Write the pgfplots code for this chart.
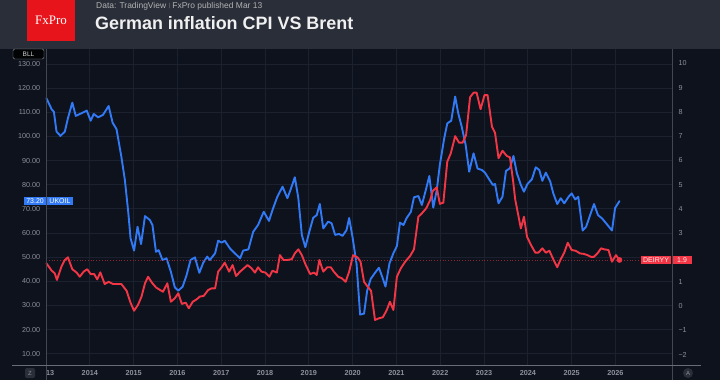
\documentclass[border=0pt]{standalone}
\usepackage{pgfplots}
\usepackage{pgfplotstable}
\pgfplotsset{compat=1.18}
\usepackage{fontspec}
\setmainfont{Liberation Sans}
\newfontfamily\logofont{Liberation Serif}
\definecolor{bgplot}{HTML}{0E121D}
\definecolor{bghead}{HTML}{2A2E39}
\definecolor{gridc}{HTML}{1C2130}
\definecolor{axc}{HTML}{434752}
\definecolor{tickc}{HTML}{8E919A}
\definecolor{oilc}{HTML}{3179F5}
\definecolor{cpic}{HTML}{F23645}
\definecolor{logored}{HTML}{E8141B}

\pgfplotstableread{
year v
2013.01 115.8
2013.13 111.2
2013.18 110.2
2013.24 102.0
2013.33 100.2
2013.43 102.0
2013.50 107.5
2013.60 114.0
2013.68 108.5
2013.81 109.6
2013.93 110.7
2014.02 106.5
2014.09 109.3
2014.19 107.9
2014.30 108.9
2014.43 112.6
2014.52 105.7
2014.61 103.0
2014.72 91.6
2014.80 82.0
2014.88 68.2
2014.93 57.8
2015.01 52.7
2015.09 62.6
2015.17 55.4
2015.26 67.0
2015.37 65.4
2015.43 63.3
2015.51 52.2
2015.57 52.9
2015.66 48.8
2015.75 49.5
2015.85 44.0
2015.94 37.5
2016.02 36.1
2016.12 37.8
2016.21 42.6
2016.30 48.8
2016.40 49.9
2016.50 43.5
2016.59 47.7
2016.68 50.2
2016.74 48.8
2016.86 51.6
2016.93 56.8
2017.01 56.0
2017.08 56.8
2017.20 53.6
2017.31 51.6
2017.43 49.5
2017.50 52.7
2017.62 53.2
2017.73 60.5
2017.84 63.3
2017.97 68.8
2018.09 65.0
2018.17 69.5
2018.28 75.0
2018.40 79.2
2018.51 74.4
2018.58 77.8
2018.68 83.1
2018.76 74.4
2018.84 59.2
2018.92 54.1
2019.01 60.5
2019.10 66.3
2019.18 67.4
2019.25 72.0
2019.33 61.9
2019.44 64.7
2019.52 64.0
2019.60 59.2
2019.69 59.6
2019.77 58.8
2019.86 61.2
2019.92 66.2
2020.00 58.0
2020.09 47.0
2020.17 26.2
2020.26 26.6
2020.33 36.0
2020.41 40.9
2020.51 43.5
2020.60 45.6
2020.66 42.6
2020.75 37.8
2020.84 47.4
2020.93 51.6
2021.01 54.6
2021.08 64.3
2021.16 63.3
2021.23 66.1
2021.33 68.8
2021.40 74.8
2021.50 75.3
2021.58 71.6
2021.68 78.5
2021.75 83.6
2021.84 70.5
2021.92 77.8
2021.99 88.2
2022.09 99.2
2022.16 105.4
2022.25 106.5
2022.34 116.5
2022.41 109.6
2022.49 104.0
2022.58 96.4
2022.66 85.4
2022.76 93.0
2022.85 86.7
2022.95 86.1
2023.02 85.0
2023.11 82.4
2023.20 79.9
2023.25 80.3
2023.33 72.3
2023.42 75.0
2023.50 85.7
2023.59 86.8
2023.67 91.9
2023.75 84.7
2023.84 79.9
2023.91 77.1
2023.99 80.3
2024.09 82.2
2024.18 87.2
2024.26 86.1
2024.33 81.6
2024.41 85.0
2024.51 81.3
2024.58 76.4
2024.67 72.0
2024.75 74.4
2024.83 72.3
2024.93 75.0
2025.00 76.4
2025.08 73.9
2025.15 75.0
2025.25 61.0
2025.33 62.6
2025.42 67.4
2025.51 72.0
2025.60 67.4
2025.69 66.1
2025.80 63.7
2025.92 61.0
2025.99 70.3
2026.09 73.2
}\oiltable

\pgfplotstableread{
year r
2013.01 1.76
2013.13 1.46
2013.20 1.35
2013.25 1.08
2013.35 1.62
2013.43 1.90
2013.50 2.01
2013.60 1.52
2013.70 1.38
2013.77 1.21
2013.86 1.42
2013.94 1.52
2014.02 1.32
2014.10 1.32
2014.17 1.10
2014.24 1.39
2014.34 0.91
2014.43 1.00
2014.53 0.91
2014.72 0.91
2014.84 0.63
2014.93 0.14
2015.01 -0.19
2015.10 0.05
2015.18 0.39
2015.26 0.94
2015.33 1.21
2015.42 0.96
2015.51 0.77
2015.58 0.69
2015.67 0.59
2015.77 0.94
2015.85 0.18
2015.94 0.32
2016.02 0.53
2016.10 0.09
2016.19 0.14
2016.26 -0.09
2016.35 0.18
2016.44 0.28
2016.51 0.39
2016.60 0.42
2016.70 0.66
2016.78 0.73
2016.86 0.73
2016.93 1.42
2017.01 1.60
2017.08 1.79
2017.18 1.42
2017.26 1.69
2017.34 1.24
2017.43 1.42
2017.52 1.56
2017.60 1.69
2017.69 1.56
2017.77 1.38
2017.84 1.60
2017.92 1.42
2018.01 1.38
2018.10 1.21
2018.17 1.46
2018.27 1.38
2018.34 2.10
2018.42 1.90
2018.51 1.90
2018.61 1.93
2018.68 2.17
2018.76 2.34
2018.84 2.10
2018.93 1.69
2019.03 1.32
2019.12 1.38
2019.18 1.28
2019.24 1.90
2019.33 1.42
2019.42 1.60
2019.50 1.60
2019.57 1.42
2019.67 1.21
2019.75 1.15
2019.84 1.00
2019.92 1.42
2020.01 2.10
2020.11 2.01
2020.18 1.83
2020.26 1.00
2020.33 0.83
2020.42 0.63
2020.51 -0.57
2020.60 -0.50
2020.69 -0.46
2020.78 -0.16
2020.85 0.18
2020.93 -0.16
2021.01 1.21
2021.10 1.56
2021.20 1.83
2021.31 2.06
2021.40 2.34
2021.50 3.68
2021.58 3.82
2021.68 4.03
2021.77 4.37
2021.83 4.75
2021.92 4.89
2021.99 4.21
2022.07 4.26
2022.16 5.95
2022.24 6.29
2022.34 7.00
2022.43 6.73
2022.51 6.73
2022.59 7.05
2022.68 8.60
2022.76 8.79
2022.83 8.79
2022.92 8.11
2023.01 8.69
2023.08 8.69
2023.18 7.39
2023.25 7.14
2023.33 6.09
2023.42 6.40
2023.52 6.18
2023.59 6.13
2023.66 5.19
2023.71 4.40
2023.78 3.75
2023.84 3.20
2023.91 3.68
2023.98 2.86
2024.07 2.52
2024.17 2.20
2024.24 2.20
2024.33 2.38
2024.41 2.20
2024.49 2.28
2024.58 1.93
2024.67 1.60
2024.75 1.93
2024.83 2.20
2024.91 2.61
2025.00 2.31
2025.09 2.28
2025.19 2.17
2025.28 2.15
2025.36 2.10
2025.44 2.03
2025.51 2.03
2025.60 2.20
2025.67 2.38
2025.74 2.34
2025.84 2.31
2025.92 1.83
2026.01 2.10
2026.09 1.90
}\cpitable

\begin{document}
\begin{tikzpicture}[x=1bp,y=1bp]
% backgrounds
\fill[bgplot] (0,0) rectangle (720,380);
\fill[bghead] (0,331) rectangle (720,380);
% logo
\fill[logored] (27,339) rectangle (75,380);
\node[text=white, font=\logofont\fontsize{13}{14}\selectfont] at (51,360) {FxPro};
% header texts
\node[anchor=west, text=black!30, font=\fontsize{8.5}{10}\selectfont, inner sep=0] at (96,374) {Data: TradingView \textcolor{black!50}{\raisebox{0.2ex}{\fontsize{6}{6}\selectfont|}} FxPro published Mar 13};
\node[anchor=west, text=white!94!black, font=\fontsize{18}{20}\selectfont\bfseries, inner sep=0] at (95,357) {German inflation CPI VS Brent};

\begin{axis}[
  at={(46bp,14bp)}, anchor=south west, scale only axis,
  width=626bp, height=317bp,
  xmin=2013, xmax=2027.29, ymin=4.9, ymax=136.21,
  clip=false,
  axis line style={draw=none},
  major tick length=0pt,
  grid=major,
  major grid style={gridc, line width=0.7bp},
  xtick={2013,2014,...,2026},
  xticklabels={\rlap{13},2014,2015,2016,2017,2018,2019,2020,2021,2022,2023,2024,2025,2026},
  xticklabel style={text=tickc, font=\fontsize{7.3}{8}\selectfont\bfseries, yshift=-1.2bp},
  ytick={10,20,...,130},
  yticklabels={10.00,20.00,30.00,40.00,50.00,60.00,70.00,80.00,90.00,100.00,110.00,120.00,130.00},
  yticklabel style={text=tickc, font=\fontsize{7.2}{8}\selectfont, xshift=-2.3bp},
]
\addplot[oilc, line width=1.9bp, line join=round, line cap=round] table[x=year, y=v] {\oiltable};
\node[fill=oilc, text=white, anchor=east, font=\fontsize{7}{7}\selectfont, inner xsep=2bp, inner ysep=1.2bp, minimum height=8bp] at (axis cs:2013,73.2) {73.20};
\node[fill=oilc, text=white, anchor=west, font=\fontsize{7}{7}\selectfont, inner xsep=2.5bp, inner ysep=1.2bp, minimum height=8bp, xshift=0.8bp] at (axis cs:2013,73.2) {UKOIL};
\end{axis}

\begin{axis}[
  at={(46bp,14bp)}, anchor=south west, scale only axis,
  width=626bp, height=317bp,
  xmin=2013, xmax=2027.29, ymin=-2.467, ymax=10.589,
  clip=false,
  axis line style={draw=none},
  major tick length=0pt,
  xtick=\empty,
  yticklabel pos=right,
  ytick={-2,-1,0,1,3,4,5,6,7,8,9,10},
  yticklabels={−2,−1,0,1,3,4,5,6,7,8,9,10},
  yticklabel style={text=tickc, font=\fontsize{7.2}{8}\selectfont, anchor=west, xshift=3bp},
]
\addplot[cpic!55!bgplot, dotted, line width=0.8bp] coordinates {(2013,1.9) (2026.61,1.9)};
\addplot[cpic, line width=1.9bp, line join=round, line cap=round] table[x=year, y=r] {\cpitable};
\addplot[only marks, mark=*, mark size=2.6bp, cpic] coordinates {(2026.09,1.90)};
\node[fill=cpic, text=white!90!cpic, anchor=east, font=\fontsize{7}{7}\selectfont, inner xsep=2bp, inner ysep=1.2bp, minimum height=8bp, xshift=-0.8bp] at (axis cs:2027.29,1.9) {DEIRYY};
\node[fill=cpic, text=white!90!cpic, anchor=west, font=\fontsize{7}{7}\selectfont, inner xsep=5bp, inner ysep=1.2bp, minimum height=8bp] at (axis cs:2027.29,1.9) {1.9};
\end{axis}

% frame lines
\draw[axc, line width=0.8bp] (46,0) -- (46,331);
\draw[axc, line width=0.8bp] (672,0) -- (672,331);
\draw[axc!80, line width=0.8bp] (12,14.5) -- (701,14.5);
% BLL box
\node[fill=black!85!bgplot, draw=axc!60, rounded corners=1.5bp, text=black!15, font=\fontsize{6.5}{7}\selectfont, minimum width=31bp, minimum height=10bp, inner sep=0] at (28.5,326) {BLL};
% Z and A buttons
\node[fill=bghead, rounded corners=2bp, text=tickc, font=\fontsize{6}{7}\selectfont, minimum width=10bp, minimum height=10bp, inner sep=0] at (30,7) {Z};
\node[fill=bghead, circle, text=tickc, font=\fontsize{6}{7}\selectfont, minimum size=10bp, inner sep=0] at (688,7) {A};
\pgfresetboundingbox
\path (0,0) rectangle (720,380);
\end{tikzpicture}
\end{document}
